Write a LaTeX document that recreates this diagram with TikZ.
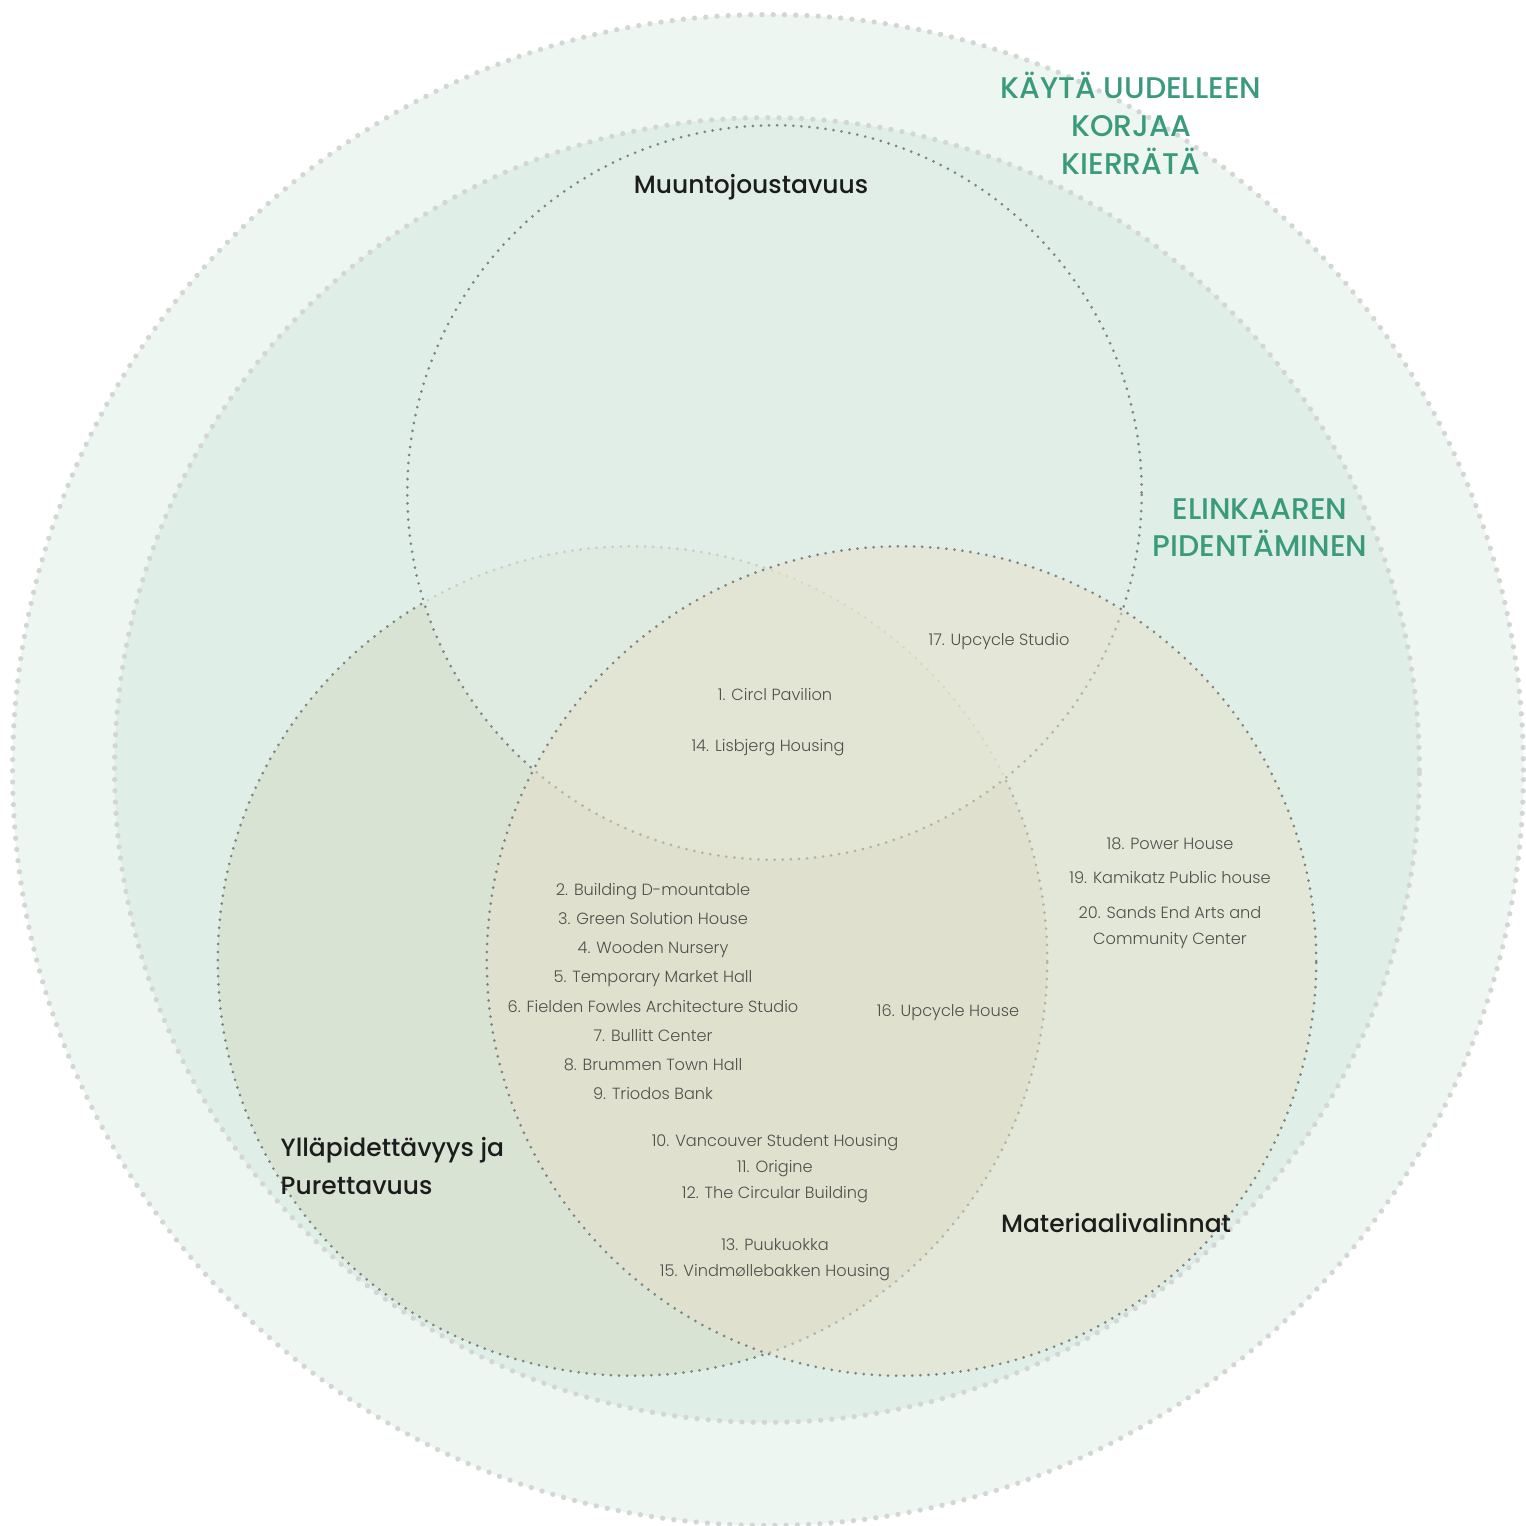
\documentclass[tikz,border=0pt]{standalone}
\usepackage{fontspec}
\setmainfont{Poppins}
\IfFontExistsTF{Poppins Light}{\newfontfamily\itemfont{Poppins Light}}{\newfontfamily\itemfont{Poppins}}
\IfFontExistsTF{Poppins Medium}{\newfontfamily\headfont{Poppins Medium}}{\newfontfamily\headfont{Poppins}}
\definecolor{outerfill}{RGB}{237,246,241}
\definecolor{ringfill}{RGB}{223,239,231}
\definecolor{leftfill}{RGB}{216,227,212}
\definecolor{topfill}{RGB}{227,238,231}
\definecolor{rightfill}{RGB}{231,225,201}
\definecolor{bigdot}{RGB}{212,214,213}
\definecolor{smalldot}{RGB}{125,132,129}
\definecolor{titlegreen}{RGB}{58,154,124}
\definecolor{itemgray}{RGB}{80,80,76}
\definecolor{headblack}{RGB}{28,28,28}

\begin{document}
\begin{tikzpicture}[
            x=0.01cm, y=-0.01cm,
            line cap=round,
            big dots/.style={draw=bigdot, line width=1.5pt, dash pattern=on 0pt off 3.2pt},
            small dots/.style={draw=smalldot, line width=0.85pt, dash pattern=on 0pt off 2.3pt},
            cycle label/.style={font=\headfont\fontsize{8.5}{9}\selectfont, text=titlegreen, inner sep=0pt, anchor=base},
            set label/.style={font=\headfont\fontsize{7.1}{10.8}\selectfont, text=headblack, inner sep=0pt, anchor=base},
            case label/.style={font=\itemfont\fontsize{4.6}{7.4}\selectfont, text=itemgray, inner sep=0pt, anchor=base},
        ]
        \def\router{7.55cm}
        \def\rring{6.52cm}
        \def\rtop{3.67cm}
        \def\rside{4.145cm}

        \useasboundingbox[fill=white] (0,0) rectangle (1526,1526);

        \coordinate (c0) at (768,770);
        \coordinate (ctop) at (774.5,492.5);
        \coordinate (cleft) at (632.5,961);
        \coordinate (cright) at (901.5,961);

        \draw[big dots, fill=outerfill] (c0) circle[radius=\router];
        \draw[big dots, fill=ringfill] (767,770) circle[radius=\rring];

        \draw[small dots, fill=leftfill] (cleft) circle[radius=\rside];
        \fill[topfill, fill opacity=0.7] (ctop) circle[radius=\rtop];
        \draw[small dots] (ctop) circle[radius=\rtop];
        \fill[rightfill, fill opacity=0.5] (cright) circle[radius=\rside];
        \draw[small dots] (cright) circle[radius=\rside];

        \node[cycle label] (reuse) at (1131,98) {KÄYTÄ UUDELLEEN};
        \node[cycle label] (repair) at (1131,136) {KORJAA};
        \node[cycle label] (recycle) at (1131,174) {KIERRÄTÄ};
        \node[cycle label] (extend1) at (1260,519) {ELINKAAREN};
        \node[cycle label] (extend2) at (1260,556) {PIDENTÄMINEN};

        \node[set label] (flex) at (751,193) {Muuntojoustavuus};
        \node[set label, anchor=base west] (maint1) at (280,1156) {Ylläpidettävyys ja};
        \node[set label, anchor=base west] (maint2) at (280,1194) {Purettavuus};
        \node[set label] (material) at (1116,1232) {Materiaalivalinnat};

        \node[case label] (c1) at (775,700) {1. Circl Pavilion};
        \node[case label] (c14) at (768,751) {14. Lisbjerg Housing};
        \node[case label] (c17) at (999,645) {17. Upcycle Studio};

        \node[case label] (c2) at (653,895) {2. Building D-mountable};
        \node[case label] (c3) at (653,924) {3. Green Solution House};
        \node[case label] (c4) at (653,953) {4. Wooden Nursery};
        \node[case label] (c5) at (653,982) {5. Temporary Market Hall};
        \node[case label] (c6) at (653,1012) {6. Fielden Fowles Architecture Studio};
        \node[case label] (c7) at (653,1041) {7. Bullitt Center};
        \node[case label] (c8) at (653,1070) {8. Brummen Town Hall};
        \node[case label] (c9) at (653,1099) {9. Triodos Bank};
        \node[case label] (c16) at (948,1016) {16. Upcycle House};

        \node[case label] (c10) at (775,1146) {10. Vancouver Student Housing};
        \node[case label] (c11) at (775,1172) {11. Origine};
        \node[case label] (c12) at (775,1198) {12. The Circular Building};
        \node[case label] (c13) at (775,1250) {13. Puukuokka};
        \node[case label] (c15) at (775,1276) {15. Vindmøllebakken Housing};

        \node[case label] (c18) at (1170,849) {18. Power House};
        \node[case label] (c19) at (1170,883) {19. Kamikatz Public house};
        \node[case label] (c20a) at (1170,918) {20. Sands End Arts and};
        \node[case label] (c20b) at (1170,944) {Community Center};
        \end{tikzpicture}
\end{document}
